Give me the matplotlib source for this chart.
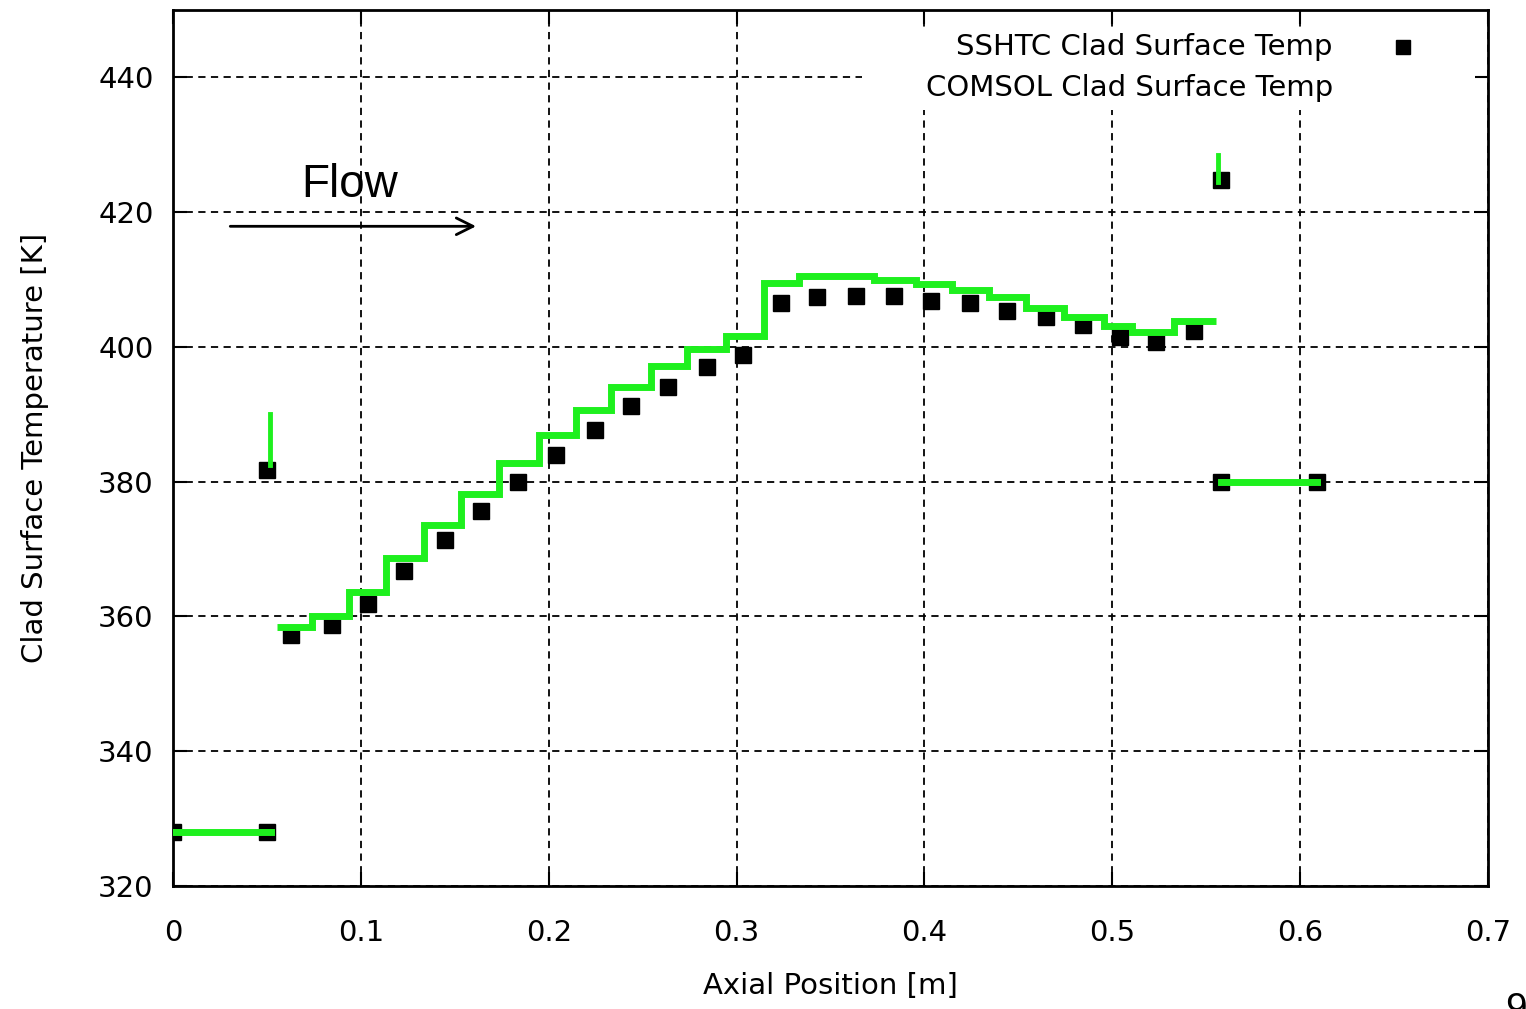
import matplotlib
matplotlib.use("Agg")
import matplotlib.pyplot as plt
from matplotlib.patches import Rectangle

# SSHTC clad surface temperature (black squares)
sshtc_x = [0.0, 0.050, 0.050, 0.063, 0.0845, 0.1036, 0.123, 0.145, 0.164, 0.1836,
           0.204, 0.2246, 0.2437, 0.2635, 0.284, 0.3034, 0.3236, 0.343, 0.3636,
           0.3838, 0.4036, 0.4244, 0.444, 0.4645, 0.4845, 0.5043, 0.5235, 0.5437,
           0.558, 0.558, 0.609]
sshtc_y = [328.0, 328.0, 381.8, 357.3, 358.8, 361.9, 366.8, 371.3, 375.6, 380.0,
           384.0, 387.6, 391.3, 394.1, 397.0, 398.8, 406.5, 407.4, 407.6,
           407.6, 406.8, 406.5, 405.3, 404.4, 403.2, 401.5, 400.7, 402.4,
           424.7, 380.0, 380.0]

# COMSOL clad surface temperature (green stairs)
comsol_edges = [0.0555, 0.0738, 0.0935, 0.1132, 0.1335, 0.1532, 0.1734, 0.1947,
                0.2144, 0.2331, 0.2544, 0.2736, 0.2943, 0.3146, 0.3333, 0.3732,
                0.3956, 0.4148, 0.4345, 0.4542, 0.4744, 0.4957, 0.5106, 0.5330,
                0.5554]
comsol_levels = [358.5, 360.1, 363.6, 368.7, 373.5, 378.1, 382.7, 387.0, 390.7,
                 394.1, 397.2, 399.7, 401.6, 409.5, 410.5, 409.9, 409.3, 408.5,
                 407.4, 405.8, 404.4, 403.1, 402.2, 403.9]
comsol_inlet_x = [0.0, 0.052]
comsol_inlet_y = [328.0, 328.0]
comsol_outlet_x = [0.558, 0.609]
comsol_outlet_y = [380.0, 380.0]
# spikes at the fuel ends
spike_left_x = [0.0515, 0.0515]
spike_left_y = [382.5, 390.0]
spike_right_x = [0.5565, 0.5565]
spike_right_y = [424.5, 428.5]

x_ticks = [0, 0.1, 0.2, 0.3, 0.4, 0.5, 0.6, 0.7]
x_tick_labels = ["0", "0.1", "0.2", "0.3", "0.4", "0.5", "0.6", "0.7"]
y_ticks = [320, 340, 360, 380, 400, 420, 440]

green = "#1ef01e"
fs = 21

plt.rcParams["font.family"] = ["DejaVu Sans"]
fig = plt.figure(figsize=(15.26, 10.09), dpi=100)
ax = fig.add_axes([173 / 1526, 123 / 1009, 1315 / 1526, 876 / 1009])

ax.plot(sshtc_x, sshtc_y, "s", color="black", ms=12, zorder=3)
ax.stairs(comsol_levels, comsol_edges, baseline=None, color=green, lw=5, zorder=4)
ax.plot(comsol_inlet_x, comsol_inlet_y, color=green, lw=5, zorder=4)
ax.plot(comsol_outlet_x, comsol_outlet_y, color=green, lw=5, zorder=4)
ax.plot(spike_left_x, spike_left_y, color=green, lw=3.5, zorder=4)
ax.plot(spike_right_x, spike_right_y, color=green, lw=3.5, zorder=4)

ax.set_xlim(0, 0.7)
ax.set_ylim(320, 450)
ax.set_xticks(x_ticks)
ax.set_xticklabels(x_tick_labels)
ax.set_yticks(y_ticks)
ax.tick_params(direction="in", length=10, width=1.5, top=True, right=True,
               labelsize=fs, colors="black")
ax.tick_params(axis="x", pad=24)
ax.tick_params(axis="y", pad=14)
ax.grid(True, color="black", linestyle=(0, (4, 3)), lw=1.3)
ax.set_axisbelow(True)
for s in ax.spines.values():
    s.set_linewidth(2)

ax.set_xlabel("Axial Position [m]", fontsize=fs)
ax.set_ylabel("Clad Surface Temperature [K]", fontsize=fs)
ax.xaxis.set_label_coords(0.5, -0.098)
ax.yaxis.set_label_coords(-0.094, 0.5)

# legend (gnuplot style: right aligned text, key on the right)
ax.add_patch(Rectangle((0.524, 0.886), 0.466, 0.093, transform=ax.transAxes,
                       facecolor="white", edgecolor="none", zorder=1))
ax.text(0.882, 0.958, "SSHTC Clad Surface Temp", transform=ax.transAxes,
        ha="right", va="center", fontsize=fs, zorder=5)
ax.text(0.882, 0.911, "COMSOL Clad Surface Temp", transform=ax.transAxes,
        ha="right", va="center", fontsize=fs, zorder=5)
ax.plot([0.9354], [0.958], "s", color="black", ms=9.5, transform=ax.transAxes,
        clip_on=False, zorder=5)

# flow direction
ax.annotate("", xy=(0.1628, 417.9), xytext=(0.029, 417.9),
            arrowprops=dict(arrowstyle="->", color="black", lw=2,
                            mutation_scale=30))
ax.text(0.0685, 424.0, "Flow", fontsize=33, family=["Liberation Sans"],
        ha="left", va="center")

fig.text(0.986, 0.017, "9", fontsize=28, family=["Liberation Sans"],
         ha="left", va="top")

fig.savefig("out.png", dpi=100)
